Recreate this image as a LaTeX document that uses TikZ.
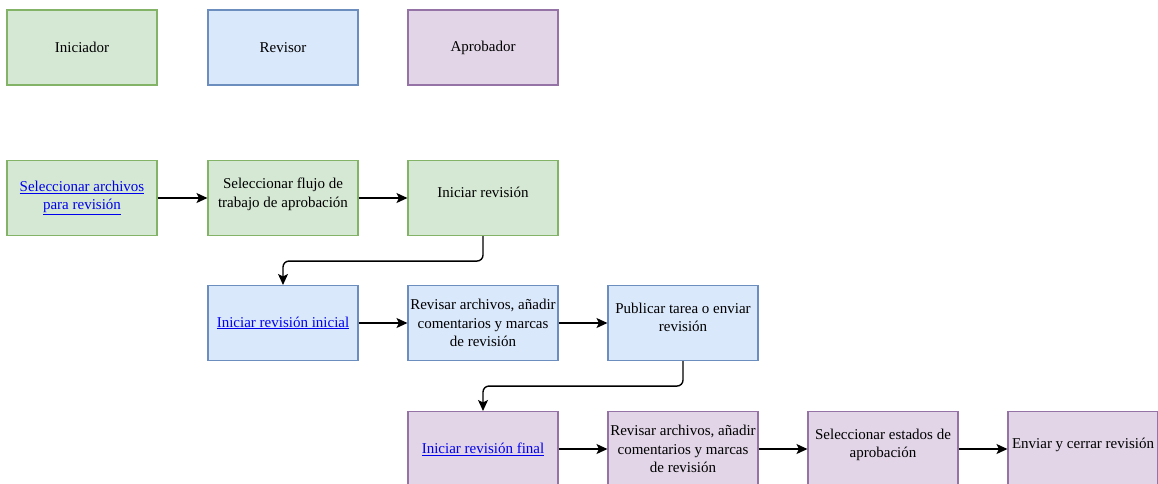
\documentclass[tikz,border=0pt]{standalone}
\usepackage{fontspec}
\setmainfont{Liberation Serif}
\usetikzlibrary{arrows.meta}
\definecolor{gfill}{HTML}{D5E8D4}
\definecolor{gdraw}{HTML}{82B366}
\definecolor{bfill}{HTML}{DAE8FC}
\definecolor{bdraw}{HTML}{6C8EBF}
\definecolor{pfill}{HTML}{E1D5E7}
\definecolor{pdraw}{HTML}{9673A6}
\definecolor{linkblue}{HTML}{0000EE}
\newcommand{\lnk}[1]{\textcolor{linkblue}{\underline{#1}}}
\tikzset{
  box/.style={rectangle, minimum width=150pt, minimum height=75pt, inner sep=0pt,
    line width=1.1pt, align=center, font=\fontsize{15}{18.5}\selectfont, text=black},
  gbox/.style={box, fill=gfill, draw=gdraw},
  bbox/.style={box, fill=bfill, draw=bdraw},
  pbox/.style={box, fill=pfill, draw=pdraw},
  arr/.style={line width=1.4pt, draw=black, -{Stealth[length=11pt,width=10pt,inset=2.5pt]}}
}
\begin{document}
\begin{tikzpicture}[x=1pt,y=-1pt]
\useasboundingbox (0,0) rectangle (1158,483);
% legend
\node[gbox] (leg1) at (82,47.5) {Iniciador};
\node[bbox] (leg2) at (283,47.5) {Revisor};
\node[pbox] (leg3) at (483,47.5) {Aprobador};
% row 2
\node[gbox] (r2a) at (82,198) {\lnk{Seleccionar archivos}\\\lnk{para revisión}};
\node[gbox] (r2b) at (283,198) {Seleccionar flujo de\\trabajo de aprobación\\[-13pt]\strut};
\node[gbox] (r2c) at (483,198) {Iniciar revisión\\[-13pt]\strut};
% row 3
\node[bbox] (r3a) at (283,323) {\lnk{Iniciar revisión inicial}};
\node[bbox] (r3b) at (483,323) {Revisar archivos, añadir\\comentarios y marcas\\de revisión};
\node[bbox] (r3c) at (683,323) {Publicar tarea o enviar\\revisión\\[-13pt]\strut};
% row 4
\node[pbox] (r4a) at (483,449) {\lnk{Iniciar revisión final}};
\node[pbox] (r4b) at (683,449) {Revisar archivos, añadir\\comentarios y marcas\\de revisión};
\node[pbox] (r4c) at (883,449) {Seleccionar estados de\\aprobación\\[-13pt]\strut};
\node[pbox] (r4d) at (1083,449) {Enviar y cerrar revisión\\[-13pt]\strut};
% connectors
\draw[arr] (r2a) -- (r2b);
\draw[arr] (r2b) -- (r2c);
\draw[arr, rounded corners=6pt] (r2c.south) -- ++(0,25) -| (r3a.north);
\draw[arr] (r3a) -- (r3b);
\draw[arr] (r3b) -- (r3c);
\draw[arr, rounded corners=6pt] (r3c.south) -- ++(0,25) -| (r4a.north);
\draw[arr] (r4a) -- (r4b);
\draw[arr] (r4b) -- (r4c);
\draw[arr] (r4c) -- (r4d);
\end{tikzpicture}
\end{document}
